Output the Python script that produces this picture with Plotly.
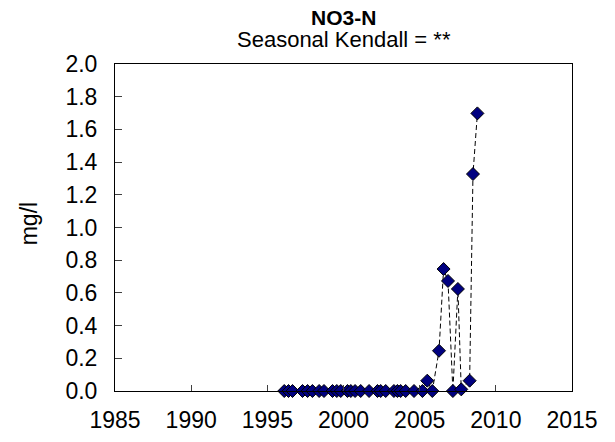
import plotly.graph_objects as go

# Sampling dates (decimal years) and NO3-N concentrations (mg/l)
years = [
    1996.11, 1996.39, 1996.65, 1997.31, 1997.64, 1997.96, 1998.40, 1998.72,
    1999.28, 1999.56, 1999.82, 2000.26, 2000.48, 2000.76, 2001.13, 2001.68,
    2002.23, 2002.44, 2002.77, 2003.31, 2003.54, 2003.75, 2004.08, 2004.63,
    2005.18, 2005.50, 2005.83, 2006.27, 2006.57, 2006.86, 2007.18, 2007.51,
    2007.73, 2008.28, 2008.50, 2008.79,
]
no3_n = [
    0.0, 0.0, 0.0, 0.0, 0.0, 0.0, 0.0, 0.0,
    0.0, 0.0, 0.0, 0.0, 0.0, 0.0, 0.0, 0.0,
    0.0, 0.0, 0.0, 0.0, 0.0, 0.0, 0.0, 0.0,
    0.0, 0.063, 0.0, 0.246, 0.746, 0.673, 0.0, 0.624,
    0.01, 0.063, 1.327, 1.698,
]

x_ticks = [1985, 1990, 1995, 2000, 2005, 2010, 2015]
y_ticks = [0.0, 0.2, 0.4, 0.6, 0.8, 1.0, 1.2, 1.4, 1.6, 1.8, 2.0]

FONT = "Liberation Sans, Arial, sans-serif"

fig = go.Figure()
fig.add_trace(go.Scatter(
    x=years, y=no3_n,
    mode="lines+markers",
    line=dict(color="black", width=1, dash="5px,3px"),
    marker=dict(symbol="diamond", size=10, color="#000080",
                line=dict(color="black", width=1)),
    cliponaxis=False,
    showlegend=False,
))

fig.update_layout(
    width=615, height=442,
    margin=dict(l=115, r=43, t=64, b=51),
    paper_bgcolor="white", plot_bgcolor="white",
    font=dict(family=FONT, size=23, color="black"),
    xaxis=dict(
        range=[1985, 2015], tickvals=x_ticks, ticktext=[str(v) for v in x_ticks],
        ticks="inside", ticklen=6, tickcolor="#404040", tickwidth=1,
        showline=True, linecolor="black", linewidth=1, mirror=True,
        showgrid=False, zeroline=False, ticklabelstandoff=8,
        tickfont=dict(size=23), automargin=False,
    ),
    yaxis=dict(
        range=[0, 2.0], tickvals=y_ticks, ticktext=[f"{v:.1f}" for v in y_ticks],
        ticks="inside", ticklen=7, tickcolor="#404040", tickwidth=1,
        showline=True, linecolor="black", linewidth=1, mirror=True,
        showgrid=False, zeroline=False, ticklabelstandoff=12,
        tickfont=dict(size=23), automargin=False,
    ),
    annotations=[
        dict(text="<b>NO3-N</b>", x=0.5, y=1.1416, xref="paper", yref="paper",
             xanchor="center", yanchor="middle", showarrow=False,
             font=dict(family=FONT, size=21)),
        dict(text="Seasonal Kendall = **", x=0.5, y=1.0734, xref="paper", yref="paper",
             xanchor="center", yanchor="middle", showarrow=False,
             font=dict(family=FONT, size=22)),
        dict(text="mg/l", x=-0.188, y=0.51, xref="paper", yref="paper",
             xanchor="center", yanchor="middle", textangle=-90, showarrow=False,
             font=dict(family=FONT, size=23)),
    ],
)

fig.write_html("out.html")
